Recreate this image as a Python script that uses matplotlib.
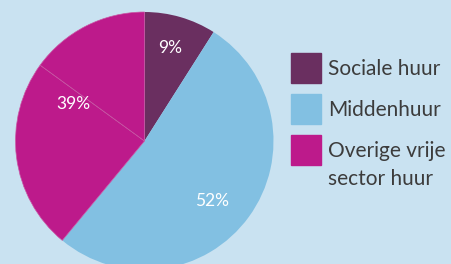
import matplotlib.pyplot as plt
from matplotlib.patches import Rectangle
import numpy as np

plt.rcParams['font.family'] = ['Lato', 'DejaVu Sans']

# slices clockwise from top (the magenta part is drawn in two pieces)
values = [9, 52, 24, 15]
slice_colors = ['#6a2f60', '#82c0e2', '#bd1a8b', '#bd1a8b']
edge_colors = ['none', 'none', '#c858a4', '#c858a4']
pct_labels = ['9%', '52%', '39%']
label_groups = [[0], [1], [2, 3]]
label_radius = [0.75, 0.70, 0.62]
label_shift = [-1, 6, 8]

legend_labels = ['Sociale huur', 'Middenhuur', 'Overige vrije\nsector huur']
legend_colors = ['#6a2f60', '#82c0e2', '#bd1a8b']

bg = '#c9e2f1'
W, H = 451, 264
fig = plt.figure(figsize=(W / 100, H / 100), dpi=100, facecolor=bg)

cx, cy, r = 144.5, 141, 129
ax = fig.add_axes([(cx - r) / W, (H - cy - r) / H, 2 * r / W, 2 * r / H])
ax.set_facecolor(bg)
wedges, _ = ax.pie(values, colors=slice_colors, startangle=90, counterclock=False,
                   radius=1, wedgeprops=dict(linewidth=0.5))
for w, ec in zip(wedges, edge_colors):
    w.set_edgecolor(ec)
ax.set_xlim(-1, 1)
ax.set_ylim(-1, 1)
ax.set_aspect('equal')
ax.axis('off')

cum = np.concatenate([[0], np.cumsum(values)]) / sum(values) * 360
for lab, grp, rad, sh in zip(pct_labels, label_groups, label_radius, label_shift):
    mid = (cum[grp[0]] + cum[grp[-1] + 1]) / 2 + sh
    ang = np.deg2rad(90 - mid)
    ax.text(rad * np.cos(ang), rad * np.sin(ang), lab, color='white',
            fontsize=12.5, ha='center', va='center')

for i, (lab, col) in enumerate(zip(legend_labels, legend_colors)):
    top = 53 + 41 * i
    fig.patches.append(Rectangle((291 / W, (H - top - 30) / H), 30 / W, 30 / H,
                                 transform=fig.transFigure, color=col))
    lines = lab.split('\n')
    for j, line in enumerate(lines):
        fig.text(328 / W, (H - top - 16 - 28 * j) / H, line, fontsize=15,
                 color='#3c3c3c', ha='left', va='center')

fig.savefig('out.png', dpi=100, facecolor=bg)
